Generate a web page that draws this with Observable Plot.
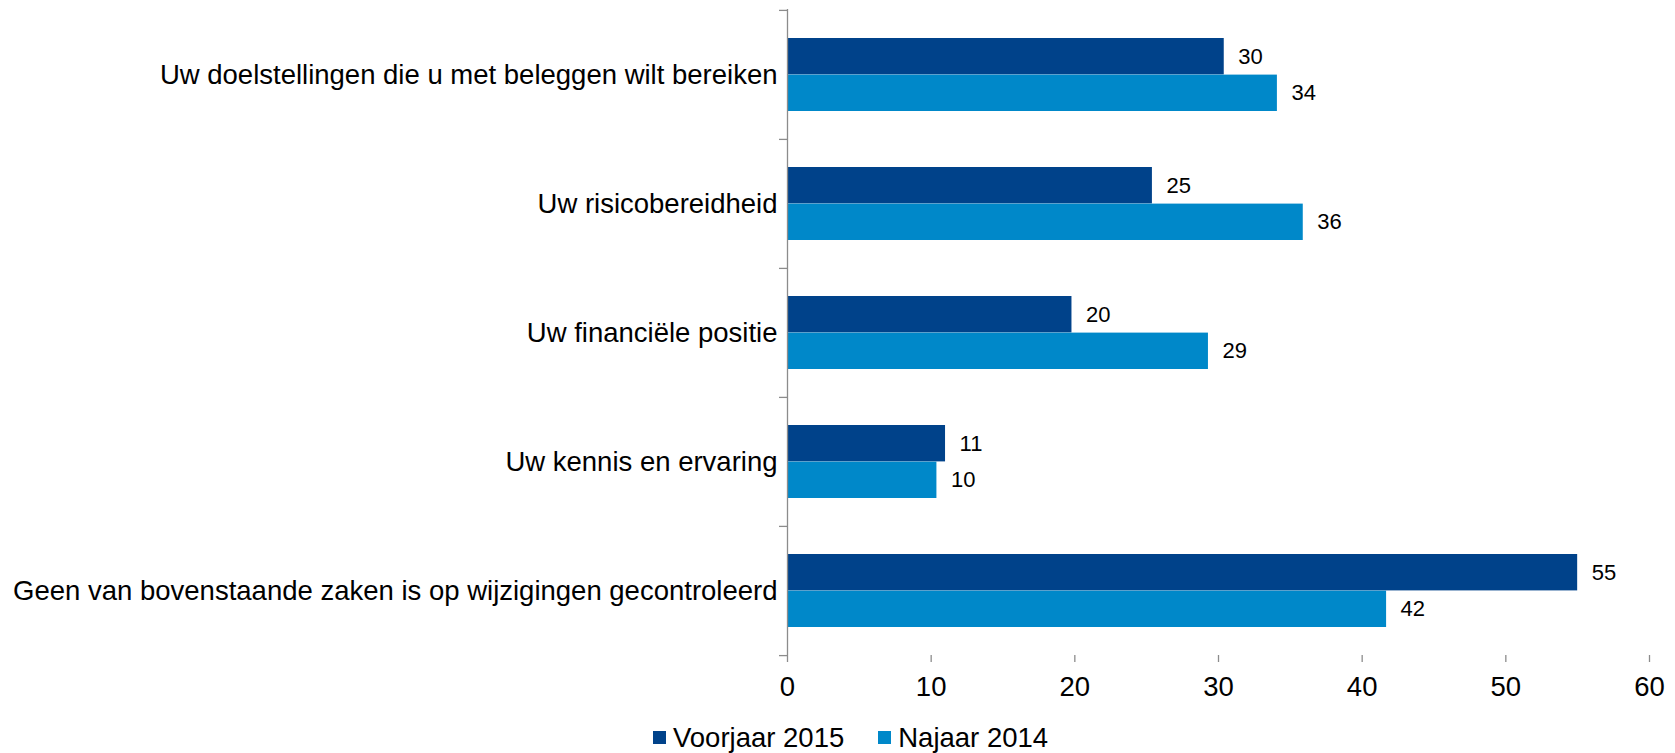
<!DOCTYPE html>
<html>
<head>
<meta charset="utf-8">
<script src="https://cdn.jsdelivr.net/npm/d3@7"></script>
<script src="https://cdn.jsdelivr.net/npm/@observablehq/plot@0.6"></script>
<style>
  body { margin: 0; background: #fff; font-family: "Liberation Sans", Arial, sans-serif; }
  #wrap { position: relative; width: 1675px; height: 753px; }
  #legend { position: absolute; left: 653px; top: 724px; display: flex; align-items: center; font-size: 27.5px; line-height: 27.5px; color: #000; white-space: nowrap; }
  .item { display: flex; align-items: center; }
  .item + .item { margin-left: 34px; }
  .sw { width: 13px; height: 13px; margin-right: 7px; }
</style>
</head>
<body>
<div id="wrap">
  <div id="chart"></div>
  <div id="legend"></div>
</div>
<script>
// ---- data ----
const categories = [
  "Uw doelstellingen die u met beleggen wilt bereiken",
  "Uw risicobereidheid",
  "Uw financiële positie",
  "Uw kennis en ervaring",
  "Geen van bovenstaande zaken is op wijzigingen gecontroleerd"
];
const seriesNames = ["Voorjaar 2015", "Najaar 2014"];
const voorjaar2015 = [30.4, 25.4, 19.8, 11.0, 55.0];
const najaar2014 = [34.1, 35.9, 29.3, 10.4, 41.7];
const xTicks = [0, 10, 20, 30, 40, 50, 60];
const seriesColors = ["#00428a", "#0088c9"];

// ---- layout ----
const W = 1675, H = 705, mT = 9, mB = 50, mL = 787, mR = 26;
const bw = (H - mT - mB) / categories.length;
const edge = 28;
const barH = (bw - 2 * edge) / 2;
const axisColor = "#8c8c8c";
const font = "'Liberation Sans', Arial, sans-serif";

const rowsV = categories.map((c, i) => ({category: c, series: seriesNames[0], value: voorjaar2015[i]}));
const rowsN = categories.map((c, i) => ({category: c, series: seriesNames[1], value: najaar2014[i]}));
const fmt = d3.format(".0f");

const chart = Plot.plot({
  width: W,
  height: H,
  marginTop: mT,
  marginBottom: mB,
  marginLeft: mL,
  marginRight: mR,
  style: {fontFamily: font, background: "#fff", color: "#000"},
  x: {domain: [0, 60]},
  y: {domain: categories, padding: 0},
  marks: [
    Plot.barX(rowsV, {x: "value", y: "category", fill: seriesColors[0], insetTop: edge, insetBottom: edge + barH}),
    Plot.barX(rowsN, {x: "value", y: "category", fill: seriesColors[1], insetTop: edge + barH, insetBottom: edge}),
    Plot.ruleX([0], {stroke: axisColor, strokeWidth: 1.3}),
    Plot.ruleY(categories, {y: d => d, x1: 0, x2: 0, insetLeft: -8, dy: -bw / 2, stroke: axisColor, strokeWidth: 1.3}),
    Plot.ruleY([categories[categories.length - 1]], {y: d => d, x1: 0, insetLeft: -8, dy: bw / 2, stroke: axisColor, strokeWidth: 1.3}),
    Plot.axisX({ticks: xTicks, tickSize: 7, tickPadding: 14, fontSize: 27.5, stroke: axisColor, strokeWidth: 1.3, fill: "#000", label: null}),
    Plot.axisY({tickSize: 0, tickPadding: 10, fontSize: 27.5, fill: "#000", label: null}),
    Plot.text(rowsV, {x: "value", y: "category", text: d => fmt(d.value), dx: 14, dy: -barH / 2, textAnchor: "start", fontSize: 22, fill: "#000"}),
    Plot.text(rowsN, {x: "value", y: "category", text: d => fmt(d.value), dx: 14, dy: barH / 2, textAnchor: "start", fontSize: 22, fill: "#000"})
  ]
});
document.getElementById("chart").appendChild(chart);

// ---- legend ----
const legend = d3.select("#legend");
seriesNames.forEach((name, i) => {
  const item = legend.append("div").attr("class", "item");
  item.append("div").attr("class", "sw").style("background", seriesColors[i]);
  item.append("span").text(name);
});
</script>
</body>
</html>
